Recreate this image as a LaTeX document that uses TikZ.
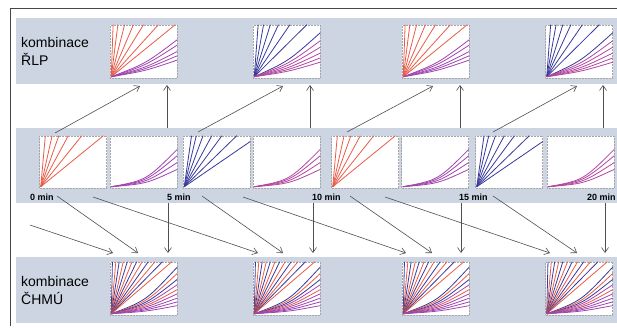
\documentclass[tikz,border=0pt]{standalone}
\usepackage{fontspec}
\setmainfont{Liberation Sans}
\usetikzlibrary{calc,arrows.meta}
\definecolor{bandc}{RGB}{205,213,227}
\definecolor{cred}{RGB}{234,92,72}
\definecolor{cblue}{RGB}{58,58,156}
\definecolor{cpur}{RGB}{160,68,176}
\definecolor{cmag}{RGB}{180,70,160}
\definecolor{arr}{RGB}{80,80,80}
\definecolor{framec}{RGB}{70,70,70}
\tikzset{
 band/.style={fill=bandc, draw=none, inner sep=0pt, minimum width=601pt},
 chart/.style={fill=white, draw=gray!70, densely dotted, line width=0.5pt, minimum width=67pt, minimum height=53pt, inner sep=0pt},
 cl/.style={line width=0.8pt, solid},
 conn/.style={draw=arr, line width=0.6pt, -{Straight Barb[length=5pt,width=7pt]}},
 lbl/.style={font=\fontsize{14}{16}\selectfont, anchor=base west, inner sep=0pt},
 tlbl/.style={font=\bfseries\fontsize{9}{10}\selectfont, anchor=base west, inner sep=0pt},
}
\newcommand\chartorigin[1]{\coordinate (#1o) at ($(#1.south west)+(1.5,-1.5)$);}
\newcommand\fantop[2]{\foreach \ff/\cc in {#2}{\draw[cl,draw=\cc] (#1o) -- ($(#1.north west)!\ff!(#1.north east)$);}}
\newcommand\curveright[3]{\foreach \ff/\cc in {#2}{%
  \coordinate (tE) at ($(#1.south east)!\ff!(#1.north east)$);
  \coordinate (tA) at ($(#1o)!0.5!(tE)$);
  \coordinate (tB) at ($(#1o)!0.55!(#1o -| tE)$);
  \draw[cl,draw=\cc] (#1o) .. controls ($(tA)!#3!(tB)$) .. (tE);}}
\newcommand\redfan[1]{\chartorigin{#1}\fantop{#1}{0.09/cred,0.19/cred,0.29/cred,0.43/cred,0.63/cred,0.95/cred}}
\newcommand\bluefan[1]{\chartorigin{#1}\fantop{#1}{0.13/cblue,0.2/cblue,0.3/cblue,0.43/cblue,0.58/cblue,0.8/cblue}\curveright{#1}{0.89/cblue}{0}}
\newcommand\purplecurves[2]{\chartorigin{#1}\curveright{#1}{0.74/#2,0.62/#2,0.49/#2,0.36/#2}{0.65}}
\newcommand\rlpred[1]{\chartorigin{#1}\fantop{#1}{0.05/cred,0.12/cred,0.22/cred,0.35/cred,0.5/cred,0.72/cred,0.97/cred}\curveright{#1}{0.72/cpur,0.62/cpur,0.5/cpur,0.42/cpur,0.34/cpur}{0.3}}
\newcommand\rlpblue[1]{\chartorigin{#1}\fantop{#1}{0.08/cblue,0.16/cblue,0.26/cblue,0.38/cblue,0.55/cblue,0.8/cblue}\curveright{#1}{0.85/cblue,0.7/cmag,0.58/cmag,0.47/cmag,0.38/cmag,0.3/cmag}{0.3}}
\newcommand\chmumix[1]{\chartorigin{#1}\fantop{#1}{0.04/cblue,0.09/cred,0.14/cblue,0.2/cred,0.26/cblue,0.33/cred,0.4/cblue,0.48/cred,0.57/cblue,0.67/cred,0.78/cblue,0.92/cred}\curveright{#1}{0.9/cblue,0.78/cred,0.67/cblue,0.57/cpur,0.48/cred,0.4/cpur,0.32/cpur,0.25/cpur,0.18/cpur}{0.45}}
\begin{document}
\begin{tikzpicture}[x=1pt,y=-1pt]
\useasboundingbox (0,0) rectangle (617,327);
\clip (0,0) rectangle (617,327);
\fill[white] (0,0) rectangle (617,327);
% frame
\draw[framec, line width=0.8pt] (10,326) -- (10,8) -- (640,8);
% bands
\node[band, minimum height=66pt] (topband) at (316.5,51) {};
\node[band, minimum height=75pt] (midband) at (316.5,165.5) {};
\node[band, minimum height=66pt] (botband) at (316.5,290) {};
% row labels
\node[lbl] (k1) at (21,47) {kombinace};
\node[lbl] (k2) at (21,65) {ŘLP};
\node[lbl] (k3) at (21,286) {kombinace};
\node[lbl] (k4) at (21,304) {ČHMÚ};
% top charts
\node[chart] (t1) at (143.5,51.5) {};
\node[chart] (t2) at (286.5,51.5) {};
\node[chart] (t3) at (435.5,51.5) {};
\node[chart] (t4) at (579,51.5) {};
% middle charts
\node[chart, minimum height=52pt] (m1) at (73,162) {};
\node[chart, minimum height=52pt] (m2) at (143.5,162) {};
\node[chart, minimum height=52pt] (m3) at (216.5,162) {};
\node[chart, minimum height=52pt] (m4) at (286.5,162) {};
\node[chart, minimum height=52pt] (m5) at (365,162) {};
\node[chart, minimum height=52pt] (m6) at (435,162) {};
\node[chart, minimum height=52pt] (m7) at (509,162) {};
\node[chart, minimum height=52pt] (m8) at (580.5,162) {};
% bottom charts
\node[chart] (b1) at (143.5,288.5) {};
\node[chart] (b2) at (286.5,288.5) {};
\node[chart] (b3) at (435.5,288.5) {};
\node[chart] (b4) at (579,288.5) {};
% chart contents
\rlpred{t1}\rlpblue{t2}\rlpred{t3}\rlpblue{t4}
\redfan{m1}\purplecurves{m2}{cpur}\bluefan{m3}\purplecurves{m4}{cmag}
\redfan{m5}\purplecurves{m6}{cpur}\bluefan{m7}\purplecurves{m8}{cmag}
\chmumix{b1}\chmumix{b2}\chmumix{b3}\chmumix{b4}
% time labels
\node[tlbl] (l0) at (30,200) {0 min};
\node[tlbl] (l5) at (167,200) {5 min};
\node[tlbl] (l10) at (312,200) {10 min};
\node[tlbl] (l15) at (459,200) {15 min};
\node[tlbl] (l20) at (587,200) {20 min};
% arrow end points
\coordinate (ua1) at (55,133);  \coordinate (ua2) at (140,86);
\coordinate (uv1) at (167,128); \coordinate (uv2) at (167,85);
\coordinate (ub1) at (198,132); \coordinate (ub2) at (283,86);
\coordinate (uw1) at (310,128); \coordinate (uw2) at (310,85);
\coordinate (uc1) at (347,132); \coordinate (uc2) at (433,86);
\coordinate (ux1) at (460,128); \coordinate (ux2) at (460,85);
\coordinate (ud1) at (493,132); \coordinate (ud2) at (577,86);
\coordinate (uy1) at (603,128); \coordinate (uy2) at (603,85);
% upward arrows
\draw[conn] (ua1) -- (ua2);
\draw[conn] (uv1) -- (uv2);
\draw[conn] (ub1) -- (ub2);
\draw[conn] (uw1) -- (uw2);
\draw[conn] (uc1) -- (uc2);
\draw[conn] (ux1) -- (ux2);
\draw[conn] (ud1) -- (ud2);
\draw[conn] (uy1) -- (uy2);
% downward arrow end points
\coordinate (d1a) at (30,225);  \coordinate (d1b) at (113,253);
\coordinate (d2a) at (57,196);  \coordinate (d2b) at (138,253);
\coordinate (d3a) at (168,203); \coordinate (d3b) at (168,253);
\coordinate (d4a) at (93,197);  \coordinate (d4b) at (258,253);
\coordinate (d5a) at (202,196); \coordinate (d5b) at (283,253);
\coordinate (d6a) at (313,203); \coordinate (d6b) at (313,253);
\coordinate (d7a) at (243,197); \coordinate (d7b) at (406,253);
\coordinate (d8a) at (350,196); \coordinate (d8b) at (432,253);
\coordinate (d9a) at (461,203); \coordinate (d9b) at (461,253);
\coordinate (d10a) at (385,197); \coordinate (d10b) at (550,253);
\coordinate (d11a) at (493,196); \coordinate (d11b) at (577,253);
\coordinate (d12a) at (605,203); \coordinate (d12b) at (605,253);
\foreach \i in {1,...,12}{\draw[conn] (d\i a) -- (d\i b);}
\end{tikzpicture}
\end{document}
